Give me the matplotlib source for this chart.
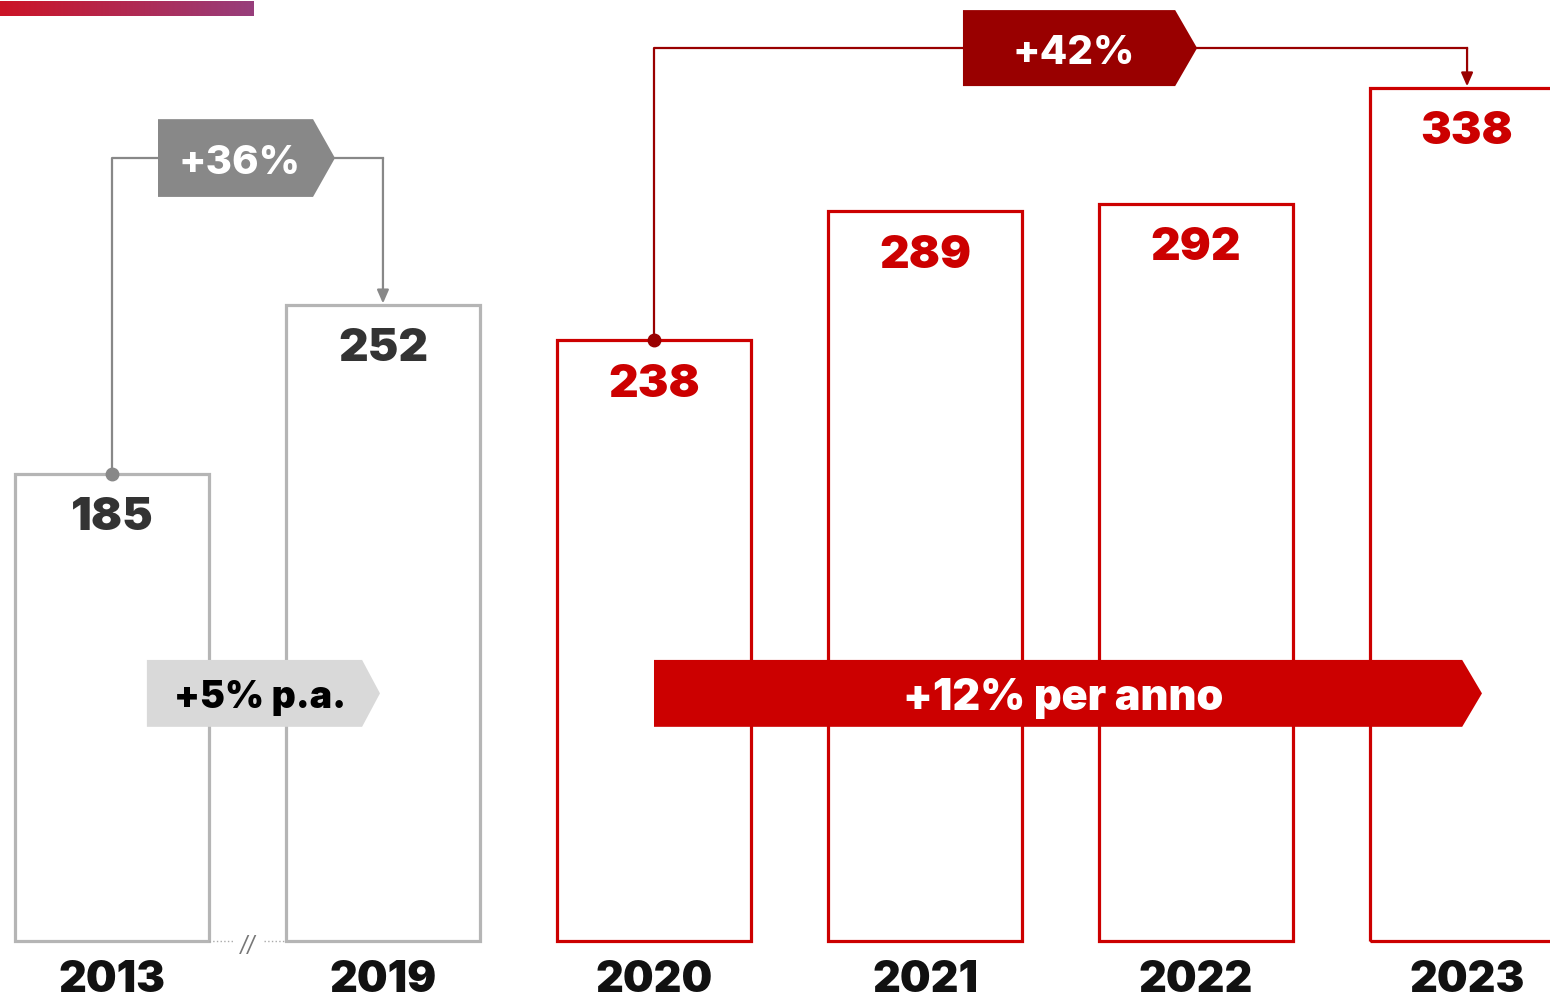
"""Bar outlines with growth tags, 2013-2023."""

import matplotlib.pyplot as plt
import numpy as np
from matplotlib.colors import LinearSegmentedColormap
from matplotlib.patches import Polygon

plt.rcParams["font.family"] = ["Inter", "DejaVu Sans"]

years = ["2013", "2019", "2020", "2021", "2022", "2023"]
values = [185, 252, 238, 289, 292, 338]
is_recent = [False, False, True, True, True, True]

growth_old = "+36%"
growth_new = "+42%"
cagr_old = "+5% p.a."
cagr_new = "+12% per anno"

RED = "#cc0000"
DARK_RED = "#990000"
GREY_EDGE = "#b5b5b5"
GREY_TAG = "#888888"
LIGHT_TAG = "#d9d9d9"

fig = plt.figure(figsize=(15.5, 10.02), dpi=100)
ax = fig.add_axes([0, 0, 1, 1])
ax.set_xlim(-0.413, 5.306)
ax.set_ylim(-24.2, 372.7)
ax.axis("off")

x = np.arange(len(years))
width = 0.716
edges = [RED if r else GREY_EDGE for r in is_recent]
ax.bar(x, values, width=width, facecolor="none", edgecolor=edges,
       linewidth=2.3, zorder=2)

for xi, v, r in zip(x, values, is_recent):
    ax.annotate(str(v), (xi, v), xytext=(0, -32), textcoords="offset points",
                ha="center", va="center", fontsize=33, fontweight=900,
                color=RED if r else "#333333", zorder=5)
    ax.text(xi, -15.8, years[xi], ha="center", va="center", fontsize=31,
            fontweight=900, color="#111111")

# axis break between 2013 and 2019
ax.plot([x[0] + width / 2, 0.445], [0, 0], ls=":", color="#aaaaaa", lw=1)
ax.plot([0.56, x[1] - width / 2], [0, 0], ls=":", color="#aaaaaa", lw=1)
ax.text(0.5, -2, "//", ha="center", va="center", fontsize=16,
        color="#777777", style="italic")


def tag(x0, x1, tip, y0, y1, color, label, tcolor, size, tx, weight=800):
    yc = (y0 + y1) / 2
    poly = Polygon([(x0, y0), (x1, y0), (tip, yc), (x1, y1), (x0, y1)],
                   closed=True, facecolor=color, edgecolor="none", zorder=4)
    ax.add_patch(poly)
    ax.text(tx, yc - 2, label, ha="center", va="center", fontsize=size,
            fontweight=weight, color=tcolor, zorder=6)


def connector(i0, i1, level, x_left, x_right, color):
    ax.plot([x[i0], x[i0], x_left], [values[i0], level, level],
            color=color, lw=1.6, zorder=3)
    ax.plot([x_right, x[i1]], [level, level], color=color, lw=1.6, zorder=3)
    ax.annotate("", xy=(x[i1], values[i1] + 0.5), xytext=(x[i1], level),
                arrowprops=dict(arrowstyle="-|>,head_width=0.35,head_length=0.8",
                                color=color, lw=1.6, shrinkA=0, shrinkB=0),
                zorder=3)
    ax.plot(x[i0], values[i0], "o", color=color, ms=9, zorder=4)


# total growth tags
connector(0, 1, 310, 0.17, 0.823, GREY_TAG)
tag(0.17, 0.742, 0.823, 294.7, 325.5, GREY_TAG, growth_old, "white", 29,
    tx=0.472)
connector(2, 5, 353.7, 3.14, 4.004, DARK_RED)
tag(3.14, 3.923, 4.004, 338.6, 368.7, DARK_RED, growth_new, "white", 29,
    tx=3.55)

# annual growth bands
tag(0.129, 0.923, 0.989, 84.8, 111.3, LIGHT_TAG, cagr_old, "black", 27,
    tx=0.545, weight=900)
tag(2.0, 4.982, 5.055, 84.8, 111.3, RED, cagr_new, "white", 31, tx=3.508,
    weight=900)

# gradient strip in the top-left corner
grad = np.linspace(0, 1, 256).reshape(1, -1)
cmap = LinearSegmentedColormap.from_list("strip", ["#cc1426", "#973e7c"])
ax.imshow(grad, cmap=cmap, aspect="auto", zorder=1,
          extent=(-0.413, (254 - 112) / 271, 366.3, 371.9))

fig.savefig("out.png", dpi=100)
plt.close(fig)
